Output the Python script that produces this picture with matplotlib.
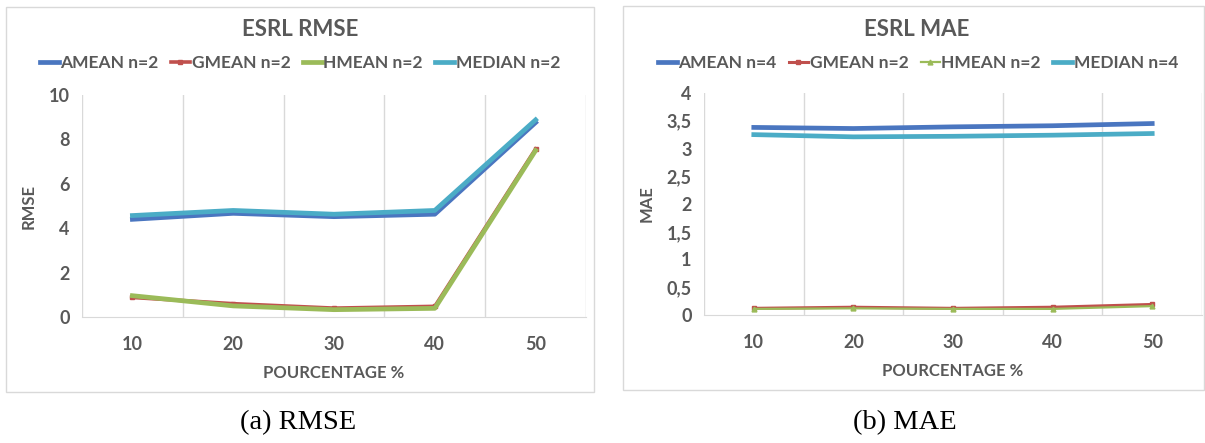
import matplotlib
matplotlib.use("Agg")
import matplotlib.pyplot as plt
from matplotlib.patches import Rectangle

# ---- data ----
categories = [10, 20, 30, 40, 50]
x_labels = ["10", "20", "30", "40", "50"]

rmse_amean = [4.40, 4.67, 4.52, 4.63, 8.76]
rmse_gmean = [0.88, 0.60, 0.40, 0.48, 7.57]
rmse_hmean = [0.96, 0.50, 0.33, 0.39, 7.50]
rmse_median = [4.57, 4.80, 4.63, 4.80, 8.88]

mae_amean = [3.38, 3.36, 3.39, 3.41, 3.45]
mae_gmean = [0.12, 0.14, 0.12, 0.14, 0.19]
mae_hmean = [0.11, 0.12, 0.11, 0.11, 0.16]
mae_median = [3.25, 3.21, 3.22, 3.24, 3.27]

rmse_names = ["AMEAN n=2", "GMEAN n=2", "HMEAN n=2", "MEDIAN n=2"]
mae_names = ["AMEAN n=4", "GMEAN n=2", "HMEAN n=2", "MEDIAN n=4"]

rmse_yticks = [0, 2, 4, 6, 8, 10]
mae_yticks = [0, 0.5, 1, 1.5, 2, 2.5, 3, 3.5, 4]

C_BLUE = "#4A76C0"
C_RED = "#C0504D"
C_GREEN = "#9BBB59"
C_CYAN = "#4BACC6"
TXT = "#595959"
GRID = "#D9D9D9"

plt.rcParams["font.family"] = ["Lato", "DejaVu Sans"]
plt.rcParams["font.weight"] = "bold"

W, H = 1205, 443
fig = plt.figure(figsize=(W / 100, H / 100), dpi=100)
fig.patch.set_facecolor("white")


def px_axes(x0, y0, x1, y1):
    return fig.add_axes([x0 / W, 1 - y1 / H, (x1 - x0) / W, (y1 - y0) / H])


def box(x0, y0, x1, y1):
    fig.patches.append(Rectangle((x0 / W, 1 - y1 / H), (x1 - x0) / W, (y1 - y0) / H,
                                 transform=fig.transFigure, fill=False,
                                 edgecolor=GRID, linewidth=1.0))


def style_axes(ax, yticks, ylim, ylabel, fmt):
    pos = list(range(len(categories)))
    ax.set_xlim(-0.5, len(categories) - 0.5)
    ax.set_ylim(*ylim)
    ax.set_xticks(pos)
    ax.set_xticklabels(x_labels)
    ax.set_xticks([p - 0.5 for p in pos] + [len(pos) - 0.5], minor=True)
    ax.grid(True, which="minor", axis="x", color=GRID, linewidth=1.0)
    ax.set_axisbelow(True)
    ax.set_yticks(yticks)
    ax.set_yticklabels([fmt(v) for v in yticks])
    for s in ["top", "right", "left"]:
        ax.spines[s].set_visible(False)
    ax.spines["bottom"].set_color(GRID)
    ax.tick_params(which="both", length=0)
    ax.tick_params(axis="x", labelsize=13, colors=TXT, pad=14)
    ax.tick_params(axis="y", labelsize=13, colors=TXT, pad=9)
    for lab in ax.get_xticklabels() + ax.get_yticklabels():
        lab.set_fontweight("bold")
    ax.set_xlabel("POURCENTAGE %", fontsize=12, color=TXT, fontweight="bold", labelpad=8)
    ax.set_ylabel(ylabel, fontsize=12, color=TXT, fontweight="bold")


# ---- left: RMSE ----
box(6, 7, 594, 392)
ax1 = px_axes(82, 95, 586, 317)
pos = list(range(len(categories)))
ax1.plot(pos, rmse_amean, color=C_BLUE, lw=3.4, label=rmse_names[0])
ax1.plot(pos, rmse_gmean, color=C_RED, lw=2.6, marker="s", ms=3, label=rmse_names[1])
ax1.plot(pos, rmse_hmean, color=C_GREEN, lw=3.4, label=rmse_names[2])
ax1.plot(pos, rmse_median, color=C_CYAN, lw=3.4, label=rmse_names[3])
style_axes(ax1, rmse_yticks, (0, 10), "RMSE", lambda v: f"{v:g}")
ax1.yaxis.set_label_coords(-0.09, 0.5)
fig.text(300 / W, 1 - 29 / H, "ESRL RMSE", ha="center", va="center",
         fontsize=16, color=TXT, fontweight="bold")
ax1.legend(loc="center", bbox_to_anchor=(300 / W, 1 - 63 / H), bbox_transform=fig.transFigure,
           ncol=4, frameon=False, handlelength=1.1, handletextpad=0.1, columnspacing=0.7,
           prop={"size": 12.5, "weight": "bold"}, labelcolor=TXT)

# ---- right: MAE ----
box(623, 6, 1204, 390)
ax2 = px_axes(704, 93, 1202, 315)
ax2.plot(pos, mae_amean, color=C_BLUE, lw=3.4, label=mae_names[0])
ax2.plot(pos, mae_gmean, color=C_RED, lw=2.2, marker="s", ms=3.5, label=mae_names[1])
ax2.plot(pos, mae_hmean, color=C_GREEN, lw=1.6, marker="^", ms=3.5, label=mae_names[2])
ax2.plot(pos, mae_median, color=C_CYAN, lw=3.4, label=mae_names[3])
style_axes(ax2, mae_yticks, (0, 4), "MAE", lambda v: f"{v:g}".replace(".", ","))
ax2.yaxis.set_label_coords(-0.10, 0.5)
fig.text(917 / W, 1 - 29 / H, "ESRL MAE", ha="center", va="center",
         fontsize=16, color=TXT, fontweight="bold")
ax2.legend(loc="center", bbox_to_anchor=(918 / W, 1 - 63 / H), bbox_transform=fig.transFigure,
           ncol=4, frameon=False, handlelength=1.1, handletextpad=0.1, columnspacing=0.7,
           prop={"size": 12.5, "weight": "bold"}, labelcolor=TXT)

# ---- captions ----
cap = dict(ha="center", va="center", fontsize=20.5, color="black",
           family=["Liberation Serif", "DejaVu Serif"], fontweight="normal")
fig.text(298 / W, 1 - 423 / H, "(a) RMSE", **cap)
fig.text(905 / W, 1 - 423 / H, "(b) MAE", **cap)

fig.savefig("out.png", dpi=100, facecolor="white")
